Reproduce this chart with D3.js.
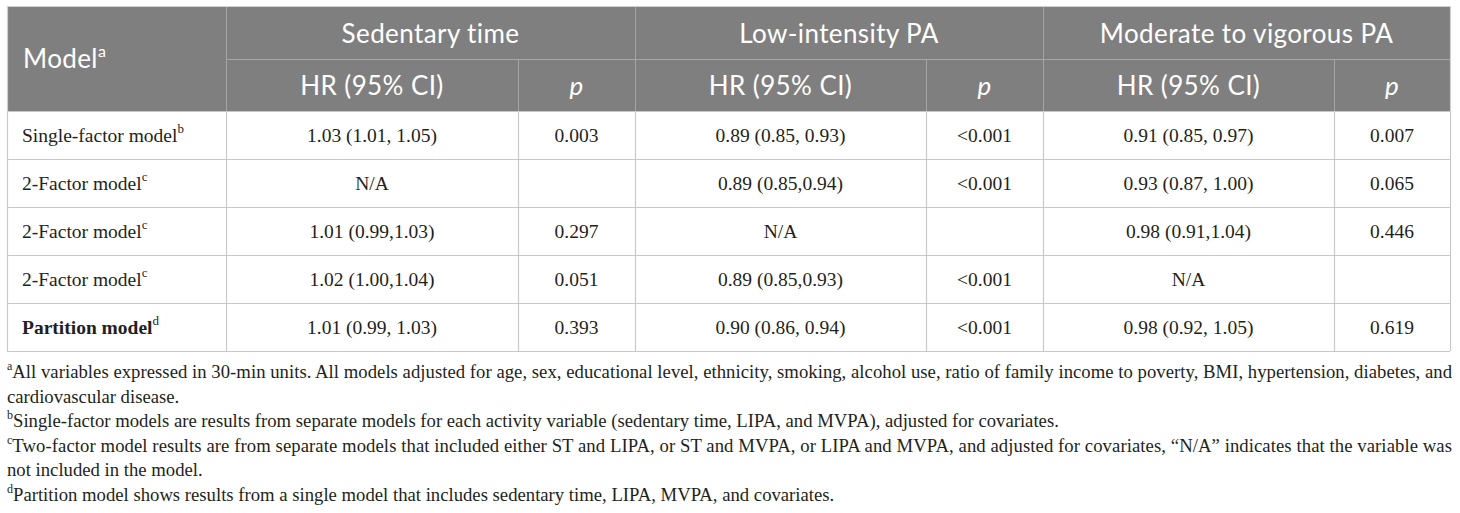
<!DOCTYPE html>
<html>
<head>
<meta charset="utf-8">
<script src="https://cdn.jsdelivr.net/npm/d3@7"></script>
<style>
  html, body { margin: 0; padding: 0; background: #fff; }
</style>
</head>
<body>
<div id="chart"></div>
<script>
// table content
const groups = ["Sedentary time", "Low-intensity PA", "Moderate to vigorous PA"];
const subHeaders = ["HR (95% CI)", "p"];
const models = ["Single-factor model", "2-Factor model", "2-Factor model", "2-Factor model", "Partition model"];
const modelNotes = ["b", "c", "c", "c", "d"];
const sedentaryHR = ["1.03 (1.01, 1.05)", "N/A", "1.01 (0.99,1.03)", "1.02 (1.00,1.04)", "1.01 (0.99, 1.03)"];
const sedentaryP = ["0.003", "", "0.297", "0.051", "0.393"];
const lipaHR = ["0.89 (0.85, 0.93)", "0.89 (0.85,0.94)", "N/A", "0.89 (0.85,0.93)", "0.90 (0.86, 0.94)"];
const lipaP = ["<0.001", "<0.001", "", "<0.001", "<0.001"];
const mvpaHR = ["0.91 (0.85, 0.97)", "0.93 (0.87, 1.00)", "0.98 (0.91,1.04)", "N/A", "0.98 (0.92, 1.05)"];
const mvpaP = ["0.007", "0.065", "0.446", "", "0.619"];
const footnotes = [
  {mark: "a", lines: ["All variables expressed in 30-min units. All models adjusted for age, sex, educational level, ethnicity, smoking, alcohol use, ratio of family income to poverty, BMI, hypertension, diabetes, and", "cardiovascular disease."]},
  {mark: "b", lines: ["Single-factor models are results from separate models for each activity variable (sedentary time, LIPA, and MVPA), adjusted for covariates."]},
  {mark: "c", lines: ["Two-factor model results are from separate models that included either ST and LIPA, or ST and MVPA, or LIPA and MVPA, and adjusted for covariates, \u201cN/A\u201d indicates that the variable was", "not included in the model."]},
  {mark: "d", lines: ["Partition model shows results from a single model that includes sedentary time, LIPA, MVPA, and covariates."]}
];

const width = 1460;
const height = 513;

// column edges of the table
const colEdges = [7, 226, 518, 635, 926, 1043, 1334, 1450];
const tableTop = 7;
const headRow = 52;
const bodyRow = 48;
const headBottom = tableTop + 2 * headRow;
const noteRight = 1452;

const serif = "'Liberation Serif', 'Times New Roman', serif";
const sans = "Lato, 'Open Sans', sans-serif";

const svg = d3.select("#chart").append("svg")
  .attr("width", width)
  .attr("height", height)
  .attr("viewBox", [0, 0, width, height]);

const y = d3.scaleBand()
  .domain(d3.range(models.length))
  .range([headBottom, headBottom + bodyRow * models.length]);

const tableBottom = headBottom + bodyRow * models.length;

// header background
svg.append("rect")
  .attr("x", colEdges[0]).attr("y", tableTop)
  .attr("width", colEdges[7] - colEdges[0]).attr("height", headBottom - tableTop)
  .attr("fill", "#7f7f7f");

// header grid lines
const headLines = svg.append("g").attr("stroke", "#a6a6a6").attr("stroke-width", 1);
headLines.selectAll("line.g")
  .data([colEdges[1], colEdges[3], colEdges[5]])
  .join("line")
    .attr("x1", d => d + 0.5).attr("x2", d => d + 0.5)
    .attr("y1", tableTop).attr("y2", headBottom);
headLines.selectAll("line.s")
  .data([colEdges[2], colEdges[4], colEdges[6]])
  .join("line")
    .attr("x1", d => d + 0.5).attr("x2", d => d + 0.5)
    .attr("y1", tableTop + headRow).attr("y2", headBottom);
headLines.append("line")
  .attr("x1", colEdges[1]).attr("x2", colEdges[7])
  .attr("y1", tableTop + headRow + 0.5).attr("y2", tableTop + headRow + 0.5);

// body grid lines
const grid = svg.append("g").attr("stroke", "#c8c8c8").attr("stroke-width", 1.2).attr("fill", "none");
grid.selectAll("line.h")
  .data(d3.range(models.length + 1))
  .join("line")
    .attr("x1", colEdges[0]).attr("x2", colEdges[7])
    .attr("y1", i => headBottom + i * bodyRow + 0.5)
    .attr("y2", i => headBottom + i * bodyRow + 0.5);
grid.selectAll("line.v")
  .data(colEdges)
  .join("line")
    .attr("x1", d => d + 0.5).attr("x2", d => d + 0.5)
    .attr("y1", headBottom).attr("y2", tableBottom);
// outer frame of the header
grid.append("line")
  .attr("x1", colEdges[0]).attr("x2", colEdges[7] + 1)
  .attr("y1", tableTop - 0.5).attr("y2", tableTop - 0.5)
  .attr("stroke", "#d0d0d0");
grid.selectAll("line.o")
  .data([colEdges[0], colEdges[7]])
  .join("line")
    .attr("x1", d => d + 0.5).attr("x2", d => d + 0.5)
    .attr("y1", tableTop).attr("y2", headBottom)
    .attr("stroke", "#d0d0d0");

// header text
const head = svg.append("g")
  .attr("fill", "#fff")
  .attr("font-family", sans)
  .attr("font-size", 26)
  .attr("letter-spacing", 0.4);

const modelLabel = head.append("text")
  .attr("x", 23).attr("y", tableTop + headRow + 9);
modelLabel.append("tspan").text("Model");
modelLabel.append("tspan").text("a").attr("font-size", 16).attr("dy", -11);

head.selectAll("text.grp")
  .data(groups)
  .join("text")
    .attr("text-anchor", "middle")
    .attr("x", (d, i) => (colEdges[1 + 2 * i] + colEdges[3 + 2 * i]) / 2)
    .attr("y", tableTop + headRow / 2 + 10)
    .text(d => d);

const subCells = groups.flatMap((g, i) => subHeaders.map((s, j) => ({label: s, col: 1 + 2 * i + j})));
head.selectAll("text.sub")
  .data(subCells)
  .join("text")
    .attr("text-anchor", "middle")
    .attr("x", d => (colEdges[d.col] + colEdges[d.col + 1]) / 2)
    .attr("y", tableTop + headRow + headRow / 2 + 10)
    .attr("font-style", d => d.label === "p" ? "italic" : null)
    .text(d => d.label);

// body text
const body = svg.append("g")
  .attr("fill", "#231f20")
  .attr("font-family", serif)
  .attr("font-size", 19.5);

const labels = body.selectAll("text.model")
  .data(models)
  .join("text")
    .attr("x", 22)
    .attr("y", (d, i) => y(i) + bodyRow / 2 + 7)
    .attr("font-weight", (d, i) => i === models.length - 1 ? "bold" : null);
labels.append("tspan").text(d => d);
labels.append("tspan")
  .text((d, i) => modelNotes[i])
  .attr("font-size", 13).attr("dy", -9)
  .attr("font-weight", "normal");

const columns = [sedentaryHR, sedentaryP, lipaHR, lipaP, mvpaHR, mvpaP];
const cells = columns.flatMap((vals, c) => vals.map((v, r) => ({v, r, c: c + 1})));
body.selectAll("text.cell")
  .data(cells)
  .join("text")
    .attr("text-anchor", "middle")
    .attr("x", d => (colEdges[d.c] + colEdges[d.c + 1]) / 2)
    .attr("y", d => y(d.r) + bodyRow / 2 + 7)
    .text(d => d.v);

// footnotes (justified like the source: every line but a paragraph's last spans the full width)
const noteLines = footnotes.flatMap(f => f.lines.map((l, k) => ({
  mark: k === 0 ? f.mark : null,
  text: l,
  justify: k < f.lines.length - 1
})));
const notes = svg.append("g")
  .attr("fill", "#231f20")
  .attr("font-family", serif)
  .attr("font-size", 18.7);

const noteText = notes.selectAll("text")
  .data(noteLines)
  .join("text")
    .attr("x", 7)
    .attr("y", (d, i) => 378 + i * 24.6);
noteText.filter(d => d.mark).append("tspan")
  .attr("class", "mark")
  .text(d => d.mark)
  .attr("font-size", 12).attr("dy", -8);
noteText.append("tspan")
  .attr("class", "line")
  .text(d => d.text)
  .attr("dy", d => d.mark ? 8 : 0);
noteText.filter(d => d.justify).each(function() {
  const t = d3.select(this);
  const markNode = t.select("tspan.mark").node();
  const markW = markNode ? markNode.getComputedTextLength() : 0;
  t.select("tspan.line")
    .attr("textLength", noteRight - 7 - markW)
    .attr("lengthAdjust", "spacing");
});
</script>
</body>
</html>
